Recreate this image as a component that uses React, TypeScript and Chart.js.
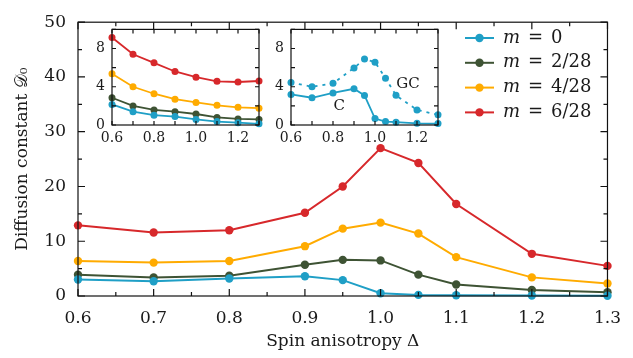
import React, { useEffect, useRef } from 'react';
import { Chart, registerables } from 'chart.js';
Chart.register(...registerables);

// ---- main plot data ----
const deltas = [0.6, 0.7, 0.8, 0.9, 0.95, 1.0, 1.05, 1.1, 1.2, 1.3];
const d_m0 = [3.0, 2.7, 3.2, 3.6, 2.9, 0.5, 0.2, 0.15, 0.1, 0.05];
const d_m2 = [3.9, 3.4, 3.7, 5.7, 6.6, 6.5, 3.9, 2.1, 1.1, 0.7];
const d_m4 = [6.4, 6.1, 6.4, 9.1, 12.3, 13.4, 11.4, 7.1, 3.4, 2.3];
const d_m6 = [12.9, 11.6, 12.0, 15.2, 20.0, 27.0, 24.3, 16.8, 7.7, 5.5];
const legendLabels = ['0', '2/28', '4/28', '6/28'];
const mainXTicks = [0.6, 0.7, 0.8, 0.9, 1.0, 1.1, 1.2, 1.3];
const mainYTicks = [0, 10, 20, 30, 40, 50];

// ---- inset 1 data ----
const inset1X = [0.6, 0.7, 0.8, 0.9, 1.0, 1.1, 1.2, 1.3];
const inset1_m0 = [2.15, 1.39, 1.03, 0.88, 0.58, 0.36, 0.24, 0.12];
const inset1_m2 = [2.85, 2.0, 1.58, 1.39, 1.15, 0.79, 0.64, 0.58];
const inset1_m4 = [5.36, 4.0, 3.27, 2.7, 2.36, 2.06, 1.85, 1.76];
const inset1_m6 = [9.15, 7.4, 6.5, 5.6, 5.0, 4.57, 4.5, 4.6];

// ---- inset 2 data ----
const inset2X = [0.6, 0.7, 0.8, 0.9, 0.95, 1.0, 1.05, 1.1, 1.2, 1.3];
const inset2_C = [3.2, 2.85, 3.36, 3.79, 3.09, 0.67, 0.36, 0.3, 0.18, 0.15];
const inset2_GC = [4.45, 4.0, 4.36, 5.97, 6.9, 6.57, 4.9, 3.1, 1.58, 1.06];
const insetXTicks = [0.6, 0.8, 1.0, 1.2];
const insetYTicks = [0, 4, 8];

const COLORS = ['#1f9fc6', '#3e5334', '#ffab00', '#d7282b'];
const FONT = 'DejaVu Serif';
const TXT = '#1a1a1a';

function range(a: number, b: number, s: number) {
  const out: number[] = [];
  for (let v = a; v <= b + 1e-9; v += s) out.push(Math.round(v * 1000) / 1000);
  return out;
}

function framePlugin(cfg: { xMaj: number[]; xMin: number[]; yMaj: number[]; yMin: number[]; maj: number; min: number }) {
  return {
    id: 'frameTicks',
    afterDatasetsDraw(chart: any) {
      const { ctx, chartArea: a, scales } = chart;
      const xs = scales.x, ys = scales.y;
      ctx.save();
      ctx.strokeStyle = '#111';
      ctx.lineWidth = 1.2;
      ctx.strokeRect(a.left, a.top, a.right - a.left, a.bottom - a.top);
      ctx.beginPath();
      const tx = (v: number, L: number) => {
        const p = xs.getPixelForValue(v);
        ctx.moveTo(p, a.bottom); ctx.lineTo(p, a.bottom - L);
        ctx.moveTo(p, a.top); ctx.lineTo(p, a.top + L);
      };
      const ty = (v: number, L: number) => {
        const p = ys.getPixelForValue(v);
        ctx.moveTo(a.left, p); ctx.lineTo(a.left + L, p);
        ctx.moveTo(a.right, p); ctx.lineTo(a.right - L, p);
      };
      cfg.xMaj.forEach(v => tx(v, cfg.maj));
      cfg.xMin.forEach(v => tx(v, cfg.min));
      cfg.yMaj.forEach(v => ty(v, cfg.maj));
      cfg.yMin.forEach(v => ty(v, cfg.min));
      ctx.stroke();
      ctx.restore();
    },
  };
}

const legendPlugin = {
  id: 'mLegend',
  afterDraw(chart: any) {
    const { ctx } = chart;
    ctx.save();
    legendLabels.forEach((lab, i) => {
      const y = 38 + i * 24.8;
      ctx.strokeStyle = COLORS[i];
      ctx.lineWidth = 2;
      ctx.beginPath(); ctx.moveTo(465, y); ctx.lineTo(494, y); ctx.stroke();
      ctx.fillStyle = COLORS[i];
      ctx.beginPath(); ctx.arc(479.5, y, 4.2, 0, Math.PI * 2); ctx.fill();
      ctx.fillStyle = TXT;
      ctx.textBaseline = 'middle';
      ctx.textAlign = 'left';
      ctx.font = `italic 18px ${FONT}`;
      ctx.fillText('m', 503, y);
      ctx.font = `18px ${FONT}`;
      ctx.fillText('=', 528, y);
      ctx.fillText(lab, 551, y);
    });
    ctx.restore();
  },
};

function makeDs(label: string, xs: number[], ys: number[], color: string, r: number, bw: number, dash?: number[]) {
  return {
    label,
    data: xs.map((x, i) => ({ x, y: ys[i] })),
    borderColor: color,
    backgroundColor: color,
    pointBackgroundColor: color,
    pointBorderColor: color,
    pointRadius: r,
    pointBorderWidth: 0,
    borderWidth: bw,
    borderDash: dash || [],
    tension: 0,
    clip: false as any,
  };
}

function axisCommon(ticks: number[], fontSize: number, pad: number, fmt: (v: number) => string) {
  return {
    type: 'linear' as const,
    grid: { display: false, drawTicks: false },
    border: { display: false },
    afterBuildTicks: (s: any) => { s.ticks = ticks.map(v => ({ value: v })); },
    ticks: { padding: pad, color: TXT, font: { family: FONT, size: fontSize }, autoSkip: false, maxRotation: 0, callback: (v: any) => fmt(Number(v)) },
  };
}

function insetChart(canvas: HTMLCanvasElement, datasets: any[], extra?: any) {
  return new Chart(canvas, {
    type: 'line',
    data: { datasets },
    options: {
      animation: false,
      responsive: false,
      maintainAspectRatio: false,
      events: [],
      layout: { padding: { left: 0, top: 2, right: 5, bottom: 0 }, autoPadding: false } as any,
      plugins: { legend: { display: false }, tooltip: { enabled: false } },
      scales: {
        x: { ...axisCommon(insetXTicks, 14, 5, v => v.toFixed(1)), min: 0.6, max: 1.3, afterFit: (s: any) => { s.height = 24; } },
        y: { ...axisCommon(insetYTicks, 14, 7, v => String(v)), min: 0, max: 10, afterFit: (s: any) => { s.width = 30; } },
      },
    } as any,
    plugins: [framePlugin({ xMaj: range(0.6, 1.3, 0.1), xMin: [], yMaj: range(0, 10, 2), yMin: [], maj: 4, min: 2 }), ...(extra ? [extra] : [])],
  });
}

const inset2Labels = {
  id: 'gcLabels',
  afterDraw(chart: any) {
    const { ctx, scales } = chart;
    ctx.save();
    ctx.fillStyle = TXT;
    ctx.font = `15px ${FONT}`;
    ctx.textAlign = 'center';
    ctx.textBaseline = 'middle';
    ctx.fillText('GC', scales.x.getPixelForValue(1.157), scales.y.getPixelForValue(4.3));
    ctx.fillText('C', scales.x.getPixelForValue(0.83), scales.y.getPixelForValue(2.0));
    ctx.restore();
  },
};

export default function App() {
  const mainRef = useRef<HTMLCanvasElement>(null);
  const in1Ref = useRef<HTMLCanvasElement>(null);
  const in2Ref = useRef<HTMLCanvasElement>(null);

  useEffect(() => {
    const main = new Chart(mainRef.current!, {
      type: 'line',
      data: {
        datasets: [
          makeDs('m=0', deltas, d_m0, COLORS[0], 4.2, 2),
          makeDs('m=2/28', deltas, d_m2, COLORS[1], 4.2, 2),
          makeDs('m=4/28', deltas, d_m4, COLORS[2], 4.2, 2),
          makeDs('m=6/28', deltas, d_m6, COLORS[3], 4.2, 2),
        ],
      },
      options: {
        animation: false,
        responsive: false,
        maintainAspectRatio: false,
        events: [],
        layout: { padding: { left: 0, top: 16, right: 14, bottom: 0 }, autoPadding: false } as any,
        plugins: { legend: { display: false }, tooltip: { enabled: false } },
        scales: {
          x: {
            ...axisCommon(mainXTicks, 17, 12, v => v.toFixed(1)),
            min: 0.6, max: 1.3,
            afterFit: (s: any) => { s.height = 62; },
            title: { display: true, text: 'Spin anisotropy Δ', color: TXT, font: { family: FONT, size: 17 }, padding: { top: 0, bottom: 6 } },
          },
          y: {
            ...axisCommon(mainYTicks, 17, 12, v => String(v)),
            min: 0, max: 50,
            afterFit: (s: any) => { s.width = 78; },
            title: { display: true, text: 'Diffusion constant 𝒟₀', color: TXT, font: { family: FONT, size: 17 }, padding: { top: 12, bottom: 0 } },
          },
        },
      } as any,
      plugins: [framePlugin({ xMaj: mainXTicks, xMin: range(0.65, 1.25, 0.1), yMaj: mainYTicks, yMin: range(5, 45, 10), maj: 7, min: 4 }), legendPlugin],
    });

    const in1 = insetChart(in1Ref.current!, [
      makeDs('a0', inset1X, inset1_m0, COLORS[0], 3.5, 1.8),
      makeDs('a2', inset1X, inset1_m2, COLORS[1], 3.5, 1.8),
      makeDs('a4', inset1X, inset1_m4, COLORS[2], 3.5, 1.8),
      makeDs('a6', inset1X, inset1_m6, COLORS[3], 3.5, 1.8),
    ]);
    const in2 = insetChart(in2Ref.current!, [
      makeDs('C', inset2X, inset2_C, COLORS[0], 3.5, 1.8),
      makeDs('GC', inset2X, inset2_GC, COLORS[0], 3.5, 1.8, [3, 5]),
    ], inset2Labels);

    return () => { main.destroy(); in1.destroy(); in2.destroy(); };
  }, []);

  return (
    <div style={{ position: 'fixed', left: 0, top: 0, width: 633, height: 358, background: '#fff' }}>
      <canvas ref={mainRef} width={633} height={358} style={{ position: 'absolute', left: 0, top: 0 }} />
      <canvas ref={in1Ref} width={182} height={135} style={{ position: 'absolute', left: 82, top: 14 }} />
      <canvas ref={in2Ref} width={182} height={135} style={{ position: 'absolute', left: 261, top: 14 }} />
    </div>
  );
}
